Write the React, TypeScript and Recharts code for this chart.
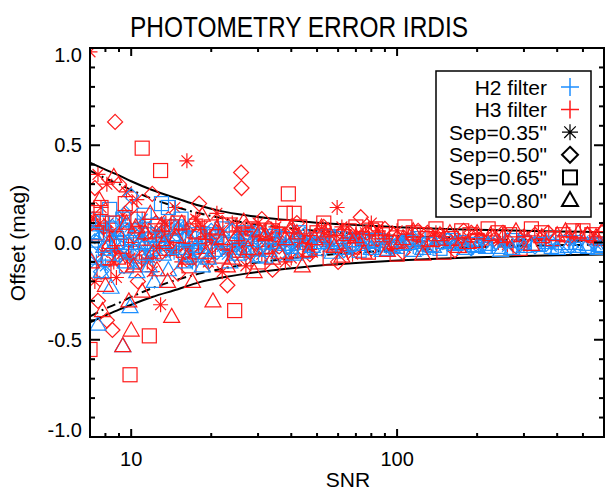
import { ComposedChart, Scatter, Line, XAxis, YAxis } from 'recharts';

const W = 606;
const H = 491;
const M = { top: 48, right: 2, bottom: 0, left: 0 };
const Y_AXIS_W = 90;
const X_AXIS_H = 54;
const PLOT_TOP = M.top;
const PLOT_BOTTOM = H - X_AXIS_H;
const PLOT_LEFT = Y_AXIS_W;
const PLOT_RIGHT = W - M.right;

const RED = '#ff1a1a';
const BLUE = '#1e8fff';
const FONT = '"Liberation Sans", Arial, Helvetica, sans-serif';

// [SNR, offset (mag)]
const h2Sep035: [number, number][] = [
  [7.0, 0.02], [7.4, -0.1], [7.6, 0.06], [7.9, 0.08], [8.0, -0.12], [8.5, -0.04], [8.8, 0.03], [9.2, 0.1],
  [9.6, -0.07], [9.9, 0.08], [10, -0.02], [10.8, 0.05], [11.0, 0.12], [11.5, -0.04], [11.8, -0.08],
  [12.5, -0.02], [13, 0.03], [13.8, 0.01], [14.5, -0.05], [15.2, 0.09], [16, 0.06], [16.5, -0.03],
  [17, -0.1], [18, -0.03], [19, 0.05], [20, 0.02], [21.5, 0.06], [22, -0.02], [23, -0.06], [24.5, -0.01],
  [25.5, 0.02], [26, 0.04], [28, -0.07], [29, 0.04], [30, -0.02], [32, 0.05], [34, -0.03], [35, 0.03],
  [38, 0.0], [40, -0.04], [41, -0.01], [43, 0.03], [47, 0.01], [50, 0.02], [55, -0.02], [60, -0.03],
  [65, 0.02], [72, 0.0], [78, -0.03], [86, -0.01], [95, 0.0], [105, 0.01], [115, -0.02], [125, -0.03],
  [140, 0.01], [155, -0.01], [170, -0.01], [190, -0.02], [210, 0.0], [240, 0.0], [260, -0.02],
  [300, -0.01], [380, -0.02], [460, 0.0], [560, -0.01],
];
const h3Sep035: [number, number][] = [
  [7.0, 0.98], [7.2, 0.12], [7.3, -0.2], [7.5, 0.35], [7.7, 0.18], [7.8, -0.05], [8.1, 0.3], [8.2, 0.1],
  [8.4, 0.05], [8.6, -0.1], [8.8, -0.18], [9.0, -0.05], [9.3, 0.14], [9.6, 0.26], [9.9, -0.08], [10.2, 0.0],
  [10.5, 0.22], [10.8, 0.08], [11.2, 0.02], [11.5, -0.1], [12.0, -0.15], [12.3, 0.05], [12.9, -0.32],
  [13, 0.06], [13.5, 0.1], [14, -0.04], [14.6, 0.18], [15.5, -0.1], [16, -0.02], [16.2, 0.42],
  [17.0, -0.06], [17.5, 0.12], [18.5, 0.08], [19, 0.03], [19.5, -0.1], [20, 0.0], [21, 0.15], [22, -0.15],
  [23, -0.04], [24, 0.1], [25, 0.06], [26, -0.02], [27, -0.12], [27.5, 0.07], [28.5, 0.04], [30, 0.1],
  [31, -0.06], [32, 0.02], [33, -0.02], [35, 0.08], [36, 0.05], [38, -0.1], [40, -0.08], [41, 0.05],
  [43, 0.0], [45, 0.03], [46, -0.02], [48, -0.05], [52, 0.07], [54, 0.0], [56, 0.04], [59.5, 0.18],
  [62, 0.08], [65, -0.04], [68, -0.06], [70, 0.04], [72, 0.02], [76, 0.05], [80, 0.1], [85, 0.06],
  [90, 0.02], [95, -0.03], [100, 0.06], [110, 0.04], [120, 0.01], [130, -0.02], [140, 0.05], [150, 0.03],
  [165, 0.02], [180, 0.0], [200, 0.04], [220, 0.02], [240, 0.0], [260, -0.01], [300, 0.03], [350, 0.02],
  [450, 0.03], [550, 0.01],
];
const h2Sep050: [number, number][] = [
  [7.2, 0.12], [7.4, 0.0], [7.7, -0.15], [8.2, 0.05], [8.5, 0.08], [8.9, -0.06], [9.2, -0.03], [9.5, 0.15],
  [10, 0.24], [10.3, 0.04], [10.7, -0.1], [11.5, 0.02], [11.9, -0.06], [12.4, 0.1], [13, 0.05],
  [13.5, -0.04], [14.2, -0.01], [15, 0.07], [16, 0.03], [16.8, -0.09], [17.8, -0.04], [18.8, 0.03],
  [20, 0.06], [21, -0.05], [22.5, 0.0], [24, 0.06], [25.5, -0.03], [27, -0.02], [29, 0.05], [31, 0.04],
  [33, 0.0], [36, -0.06], [39, -0.02], [42, 0.02], [45, 0.04], [49, -0.03], [53, 0.0], [58, 0.03],
  [63, -0.04], [68, -0.02], [74, 0.02], [80, 0.01], [88, -0.01], [96, -0.03], [105, 0.0], [115, 0.02],
  [127, -0.01], [140, -0.02], [155, 0.01], [170, 0.0], [190, -0.03], [210, -0.01], [235, 0.0], [260, 0.01],
  [290, -0.01], [330, -0.02], [380, 0.0], [450, -0.02], [550, 0.0],
];
const h3Sep050: [number, number][] = [
  [7.1, 0.1], [7.3, 0.28], [7.5, -0.3], [7.9, 0.08], [8.1, -0.4], [8.3, -0.02], [8.5, -0.45], [8.7, 0.62],
  [9.0, 0.3], [9.4, -0.12], [9.7, 0.06], [10, 0.18], [10.6, -0.2], [11, -0.08], [11.3, 0.04], [12, 0.25],
  [12.4, 0.1], [12.8, -0.06], [13.8, 0.12], [14.5, 0.02], [15, -0.16], [16, -0.05], [16.5, 0.07],
  [17.2, 0.1], [18, 0.2], [19.5, -0.1], [20, -0.02], [21, 0.05], [22, 0.1], [23, -0.22], [24.5, -0.06],
  [25.9, 0.36], [26, 0.28], [27, 0.08], [28, -0.05], [30, 0.0], [31, 0.12], [33, 0.07], [34, -0.14],
  [36, -0.02], [38, 0.04], [40, 0.06], [42, 0.1], [44, -0.03], [47, -0.06], [50, 0.04], [53, 0.08],
  [57, 0.02], [60, -0.1], [63, 0.06], [66, 0.05], [70, -0.02], [73, 0.13], [77, 0.05], [80, -0.03],
  [85, 0.02], [90, 0.07], [97, 0.04], [105, -0.05], [112, 0.0], [120, 0.06], [130, 0.05], [140, 0.02],
  [152, 0.03], [165, -0.04], [178, 0.06], [190, 0.05], [210, 0.01], [230, 0.03], [250, 0.05], [280, -0.02],
  [300, 0.03], [330, 0.04], [370, 0.05], [440, 0.02], [520, 0.04], [590, 0.05],
];
const h2Sep065: [number, number][] = [
  [7.1, 0.04], [7.3, -0.06], [7.8, 0.1], [8.0, -0.03], [8.3, 0.17], [8.6, 0.07], [8.9, 0.0], [9.3, 0.12],
  [9.6, -0.12], [10, 0.0], [10.4, 0.06], [10.8, -0.07], [11.2, 0.14], [11.6, 0.04], [12, -0.03],
  [12.6, 0.09], [13, 0.2], [13.8, 0.18], [14.3, 0.0], [14.8, 0.08], [15.4, 0.12], [16, -0.06],
  [16.6, 0.02], [17.5, 0.04], [18.3, -0.05], [19.5, -0.02], [20.5, 0.04], [22, 0.07], [23.5, -0.01],
  [25, -0.04], [26.5, 0.05], [28, 0.03], [30, -0.03], [32, -0.07], [34.5, 0.03], [37, 0.02], [40, -0.02],
  [43, 0.05], [46, 0.0], [50, -0.03], [55, 0.03], [60, 0.02], [66, -0.01], [72, -0.04], [78, 0.01],
  [85, 0.01], [92, -0.03], [100, -0.02], [110, 0.0], [120, 0.02], [132, -0.01], [145, -0.03], [160, 0.01],
  [175, 0.0], [195, -0.01], [215, -0.02], [240, -0.02], [270, 0.01], [300, 0.0], [340, -0.01], [380, -0.02],
  [420, 0.0], [470, 0.0], [520, -0.02], [570, -0.01],
];
const h3Sep065: [number, number][] = [
  [7.0, -0.55], [7.2, 0.12], [7.4, 0.05], [7.7, 0.18], [7.9, -0.15], [8.2, -0.08], [8.5, 0.1], [8.8, 0.02],
  [9.2, -0.02], [9.5, 0.2], [9.9, -0.68], [10.3, -0.1], [10.6, 0.12], [11, 0.485], [11.4, -0.05],
  [11.7, -0.48], [12.3, 0.06], [12.9, 0.37], [13.2, 0.02], [13.6, -0.03], [14.2, 0.08], [15, 0.1],
  [15.7, -0.04], [16.5, -0.12], [17.2, 0.06], [18, 0.03], [19, -0.02], [20, 0.08], [21, 0.03], [22, -0.07],
  [23.5, 0.09], [24.5, -0.35], [25.5, -0.04], [27, 0.02], [28.5, 0.07], [30, -0.1], [32, -0.02], [34, 0.06],
  [36, 0.04], [38, 0.15], [39, 0.25], [41, 0.15], [43, 0.08], [45, -0.04], [47, 0.0], [50, 0.05], [53, 0.1],
  [56, -0.08], [59, 0.0], [63, 0.03], [66, 0.06], [70, 0.08], [74, 0.02], [78, -0.05], [83, 0.07],
  [88, 0.04], [94, 0.0], [100, -0.06], [107, 0.08], [115, 0.05], [122, 0.04], [130, 0.02], [140, 0.07],
  [150, -0.05], [160, 0.02], [175, 0.06], [188, 0.04], [200, 0.01], [220, 0.07], [240, 0.05], [265, 0.04],
  [290, -0.03], [320, 0.07], [350, 0.05], [385, 0.02], [420, 0.04], [460, 0.06], [500, 0.06], [540, 0.04],
  [580, 0.02],
];
const h2Sep080: [number, number][] = [
  [7.0, -0.08], [7.2, 0.05], [7.5, -0.42], [7.7, -0.15], [7.9, -0.02], [8.2, -0.06], [8.4, -0.23],
  [8.7, 0.0], [9.0, 0.05], [9.3, -0.53], [9.5, -0.1], [9.9, -0.33], [10.1, 0.02], [10.5, -0.15],
  [10.9, -0.06], [11.3, 0.0], [11.7, -0.12], [12.2, -0.2], [12.7, 0.03], [13.2, -0.06], [13.8, -0.14],
  [14.5, 0.04], [15.1, -0.03], [15.8, -0.1], [16.6, 0.02], [17.5, -0.02], [18.5, -0.12], [19.5, -0.08],
  [20.5, -0.04], [22, 0.02], [23.5, -0.1], [25, -0.06], [26.5, -0.03], [28.5, 0.01], [30.5, -0.07],
  [33, -0.04], [35.5, 0.0], [38, -0.01], [41, -0.06], [44, -0.05], [48, -0.02], [52, 0.0], [57, -0.05],
  [62, -0.03], [68, 0.01], [74, -0.01], [80, -0.03], [88, -0.04], [96, -0.02], [105, -0.01], [115, -0.04],
  [125, -0.03], [137, -0.02], [150, 0.0], [165, -0.01], [180, -0.03], [200, -0.02], [220, -0.01],
  [245, -0.04], [270, -0.03], [300, -0.02], [330, -0.01], [365, 0.0], [400, -0.03], [440, -0.02],
  [480, -0.02], [520, -0.01], [570, -0.03], [590, -0.02],
];
const h3Sep080: [number, number][] = [
  [7.1, -0.1], [7.3, 0.1], [7.6, 0.22], [7.8, -0.35], [8.0, -0.22], [8.3, 0.0], [8.6, 0.34], [8.9, -0.08],
  [9.3, -0.53], [9.6, 0.1], [9.8, -0.3], [10, -0.45], [10.2, -0.12], [10.4, 0.08], [11, -0.25],
  [11.3, 0.05], [11.8, 0.15], [12.1, -0.05], [12.5, -0.14], [13, 0.09], [13.3, 0.0], [13.7, -0.2],
  [14.2, -0.38], [14.8, 0.03], [15.5, 0.1], [16.2, -0.08], [17, -0.2], [17.7, 0.05], [18.5, 0.14],
  [19.2, -0.05], [20.3, -0.3], [21, 0.07], [22, 0.02], [23, -0.12], [24, -0.08], [25, 0.04], [26.5, 0.11],
  [27.5, -0.03], [29, -0.15], [30.5, 0.06], [32, 0.04], [34, -0.08], [36, -0.05], [38, 0.02], [40, 0.08],
  [42, 0.05], [44, -0.12], [46.5, -0.04], [49, 0.02], [52, 0.08], [55, 0.06], [58, -0.02], [62, -0.07],
  [65, 0.04], [70, 0.03], [75, -0.05], [80, 0.07], [86, 0.05], [92, -0.04], [98, 0.0], [105, 0.02],
  [115, 0.06], [125, -0.06], [135, 0.01], [145, 0.04], [158, 0.05], [170, -0.02], [185, 0.0], [200, 0.05],
  [225, 0.04], [250, 0.03], [280, 0.06], [320, -0.01], [350, 0.03], [400, 0.04], [430, 0.06], [480, 0.05],
  [520, 0.04], [560, 0.03], [590, 0.06],
];

// envelope curves
const curveSnr = [7, 8, 9, 10, 12, 15, 18, 22, 27, 33, 43, 55, 70, 90, 110, 150, 200, 300, 400, 600];
const solidUpper = [0.41, 0.375, 0.345, 0.315, 0.27, 0.225, 0.19, 0.16, 0.14, 0.125, 0.11, 0.098, 0.09, 0.082, 0.077, 0.07, 0.065, 0.06, 0.057, 0.053];
const solidLower = [-0.41, -0.375, -0.345, -0.32, -0.28, -0.24, -0.205, -0.18, -0.16, -0.145, -0.128, -0.115, -0.105, -0.097, -0.09, -0.082, -0.076, -0.07, -0.066, -0.062];
const dashUpper = [0.37, 0.33, 0.3, 0.27, 0.225, 0.18, 0.15, 0.125, 0.1, 0.085, 0.068, 0.055, 0.045, 0.037, 0.031, 0.024, 0.018, 0.013, 0.01, 0.007];
const dashLower = [-0.38, -0.34, -0.31, -0.28, -0.235, -0.19, -0.16, -0.135, -0.112, -0.095, -0.077, -0.063, -0.052, -0.043, -0.037, -0.029, -0.023, -0.017, -0.014, -0.011];

const xTicks = [8, 9, 10, 20, 30, 40, 50, 60, 70, 80, 90, 100, 200, 300, 400, 500];
const xLabels = [10, 100];
const yTicks = [-1, -0.9, -0.8, -0.7, -0.6, -0.5, -0.4, -0.3, -0.2, -0.1, 0, 0.1, 0.2, 0.3, 0.4, 0.5, 0.6, 0.7, 0.8, 0.9, 1];
const yLabels = [-1, -0.5, 0, 0.5, 1];

const legendRows = ['H2 filter', 'H3 filter', 'Sep=0.35"', 'Sep=0.50"', 'Sep=0.65"', 'Sep=0.80"'];

const toPoints = (arr: [number, number][]) => arr.map(([x, y]) => ({ x, y }));
const toCurve = (ys: number[]) => curveSnr.map((x, i) => ({ x, y: ys[i] }));

const S = 7.5;

function Asterisk({ cx, cy, color, r = S }: any) {
  const d = r * 0.72;
  return (
    <path
      d={`M${cx - r},${cy}H${cx + r}M${cx},${cy - r}V${cy + r}M${cx - d},${cy - d}L${cx + d},${cy + d}M${cx - d},${cy + d}L${cx + d},${cy - d}`}
      stroke={color}
      strokeWidth={1.2}
      fill="none"
    />
  );
}
function Diamond({ cx, cy, color, r = S, w = 1.2 }: any) {
  return <path d={`M${cx},${cy - r}L${cx + r},${cy}L${cx},${cy + r}L${cx - r},${cy}Z`} stroke={color} strokeWidth={w} fill="none" />;
}
function Square({ cx, cy, color, r = 7, w = 1.2 }: any) {
  return <rect x={cx - r} y={cy - r} width={2 * r} height={2 * r} stroke={color} strokeWidth={w} fill="none" />;
}
function Triangle({ cx, cy, color, r = 8, w = 1.2 }: any) {
  return <path d={`M${cx},${cy - r}L${cx + r},${cy + r * 0.75}L${cx - r},${cy + r * 0.75}Z`} stroke={color} strokeWidth={w} fill="none" />;
}
function Plus({ cx, cy, color }: any) {
  return <path d={`M${cx - 9},${cy}H${cx + 9}M${cx},${cy - 9}V${cy + 9}`} stroke={color} strokeWidth={1.5} fill="none" />;
}

function XTick(props: any) {
  const { x, payload } = props;
  const v = payload.value;
  const major = xLabels.includes(v);
  const len = major ? 8 : 4;
  return (
    <g>
      <line x1={x} x2={x} y1={PLOT_BOTTOM} y2={PLOT_BOTTOM - len} stroke="#000" strokeWidth={2} />
      <line x1={x} x2={x} y1={PLOT_TOP} y2={PLOT_TOP + len} stroke="#000" strokeWidth={2} />
      {major && (
        <text x={x} y={466} textAnchor="middle" fontSize={20} fontFamily={FONT} fill="#000">
          {v}
        </text>
      )}
    </g>
  );
}

function YTick(props: any) {
  const { y, payload } = props;
  const v = payload.value;
  const major = yLabels.includes(v);
  const len = major ? 10 : 5;
  const shift = v === 1 ? 7 : v === -1 ? -7 : 0;
  return (
    <g>
      <line x1={PLOT_LEFT} x2={PLOT_LEFT + len} y1={y} y2={y} stroke="#000" strokeWidth={2} />
      <line x1={PLOT_RIGHT} x2={PLOT_RIGHT - len} y1={y} y2={y} stroke="#000" strokeWidth={2} />
      {major && (
        <text x={82} y={y + shift + 7} textAnchor="end" fontSize={20} fontFamily={FONT} fill="#000">
          {v.toFixed(1)}
        </text>
      )}
    </g>
  );
}

const series = [
  { data: h2Sep035, color: BLUE, Shape: Asterisk },
  { data: h3Sep035, color: RED, Shape: Asterisk },
  { data: h2Sep050, color: BLUE, Shape: Diamond },
  { data: h3Sep050, color: RED, Shape: Diamond },
  { data: h2Sep065, color: BLUE, Shape: Square },
  { data: h3Sep065, color: RED, Shape: Square },
  { data: h2Sep080, color: BLUE, Shape: Triangle },
  { data: h3Sep080, color: RED, Shape: Triangle },
];

export default function App() {
  const rowY = (i: number) => 87 + i * 22.6;
  return (
    <div style={{ position: 'absolute', left: 0, top: 0, width: W, height: H, background: '#fff' }}>
      <ComposedChart width={W} height={H} margin={M}>
        <XAxis
          dataKey="x"
          type="number"
          scale="log"
          domain={[7, 600]}
          allowDataOverflow
          ticks={xTicks}
          interval={0}
          tick={XTick}
          tickLine={false}
          axisLine={false}
          height={X_AXIS_H}
        />
        <YAxis
          dataKey="y"
          type="number"
          domain={[-1, 1]}
          allowDataOverflow
          ticks={yTicks}
          interval={0}
          tick={YTick}
          tickLine={false}
          axisLine={false}
          width={Y_AXIS_W}
        />
        {series.map((s, i) => (
          <Scatter
            key={i}
            data={toPoints(s.data)}
            isAnimationActive={false}
            shape={(p: any) => <s.Shape cx={p.cx} cy={p.cy} color={s.color} />}
          />
        ))}
        <Line data={toCurve(solidUpper)} dataKey="y" type="monotone" stroke="#000" strokeWidth={2} dot={false} isAnimationActive={false} />
        <Line data={toCurve(solidLower)} dataKey="y" type="monotone" stroke="#000" strokeWidth={2} dot={false} isAnimationActive={false} />
        <Line data={toCurve(dashUpper)} dataKey="y" type="monotone" stroke="#000" strokeWidth={2} strokeDasharray="9 4 2 4" dot={false} isAnimationActive={false} />
        <Line data={toCurve(dashLower)} dataKey="y" type="monotone" stroke="#000" strokeWidth={2} strokeDasharray="9 4 2 4" dot={false} isAnimationActive={false} />
      </ComposedChart>
      <svg width={W} height={H} style={{ position: 'absolute', left: 0, top: 0, pointerEvents: 'none' }}>
        <rect x={PLOT_LEFT} y={PLOT_TOP} width={PLOT_RIGHT - PLOT_LEFT} height={PLOT_BOTTOM - PLOT_TOP} fill="none" stroke="#000" strokeWidth={2} />
        <text x={299} y={37} textAnchor="middle" fontSize={29} fontFamily={FONT} textLength={338} lengthAdjust="spacingAndGlyphs">
          PHOTOMETRY ERROR IRDIS
        </text>
        <text x={348} y={487} textAnchor="middle" fontSize={21} fontFamily={FONT}>
          SNR
        </text>
        <text x={25} y={243} textAnchor="middle" fontSize={21} fontFamily={FONT} transform="rotate(-90, 25, 243)">
          Offset (mag)
        </text>
        <rect x={436} y={71} width={155} height={146} fill="#fff" stroke="#000" strokeWidth={1.5} />
        {legendRows.map((t, i) => (
          <text key={t} x={547} y={rowY(i) + 7.5} textAnchor="end" fontSize={21} fontFamily={FONT}>
            {t}
          </text>
        ))}
        <Plus cx={570} cy={rowY(0)} color={BLUE} />
        <Plus cx={570} cy={rowY(1)} color={RED} />
        <Asterisk cx={570} cy={rowY(2)} color="#000" r={8} />
        <Diamond cx={570} cy={rowY(3)} color="#000" r={8} w={2} />
        <Square cx={570} cy={rowY(4)} color="#000" r={7} w={2} />
        <Triangle cx={570} cy={rowY(5)} color="#000" r={8} w={2} />
      </svg>
    </div>
  );
}
